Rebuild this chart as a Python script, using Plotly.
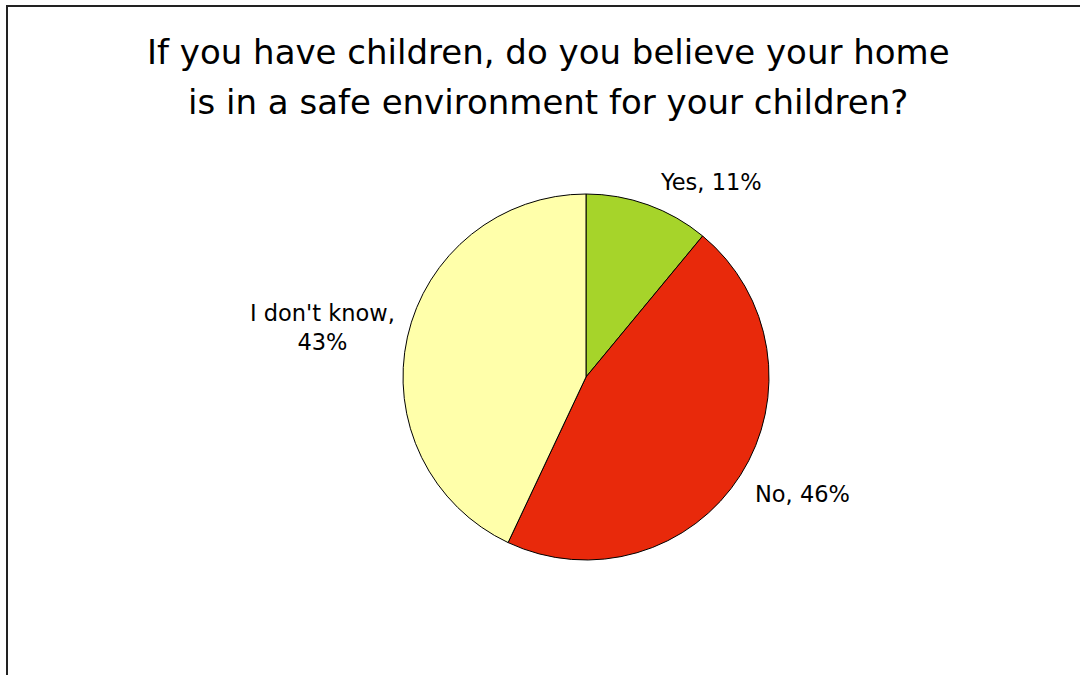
import plotly.graph_objects as go

# Survey responses
labels = ["Yes", "No", "I don't know"]
values = [11, 46, 43]
colors = ["#A6D42A", "#E8290B", "#FFFFAA"]
title_lines = ["If you have children, do you believe your home",
               "is in a safe environment for your children?"]

W, H = 1080, 675
cx, cy, r = 586, 377, 183

fig = go.Figure(go.Pie(
    labels=labels,
    values=values,
    sort=False,
    direction="clockwise",
    rotation=0,
    marker=dict(colors=colors, line=dict(color="#000000", width=1)),
    textinfo="none",
    hoverinfo="label+percent",
    showlegend=False,
    domain=dict(x=[(cx - r) / W, (cx + r) / W],
                y=[(H - cy - r) / H, (H - cy + r) / H]),
))

font = dict(family="DejaVu Sans, Verdana, sans-serif", color="#000000")

# Slice labels placed outside the pie
label_pos = {"Yes": (711, 182), "No": (802, 494), "I don't know": (322, 327)}
label_text = {"Yes": f"Yes, {values[0]}%",
              "No": f"No, {values[1]}%",
              "I don't know": f"I don't know,<br>{values[2]}%"}
annotations = []
for lab in labels:
    x, y = label_pos[lab]
    annotations.append(dict(
        x=x / W, y=1 - y / H, xref="paper", yref="paper",
        text=label_text[lab], showarrow=False, align="center",
        xanchor="center", yanchor="middle",
        font=dict(size=22.5, **font),
    ))

# Two-line title
for i, line in enumerate(title_lines):
    annotations.append(dict(
        x=548 / W, y=1 - (52 + 50 * i) / H, xref="paper", yref="paper",
        text=line, showarrow=False, xanchor="center", yanchor="middle",
        font=dict(size=34, **font),
    ))

fig.update_layout(
    width=W, height=H,
    margin=dict(l=0, r=0, t=0, b=0),
    paper_bgcolor="white",
    plot_bgcolor="white",
    annotations=annotations,
    shapes=[dict(type="rect", xref="paper", yref="paper",
                 x0=7 / W, x1=1.1, y0=-0.1, y1=1 - 6 / H,
                 line=dict(color="#222222", width=2))],
)

fig.write_html("out.html")
